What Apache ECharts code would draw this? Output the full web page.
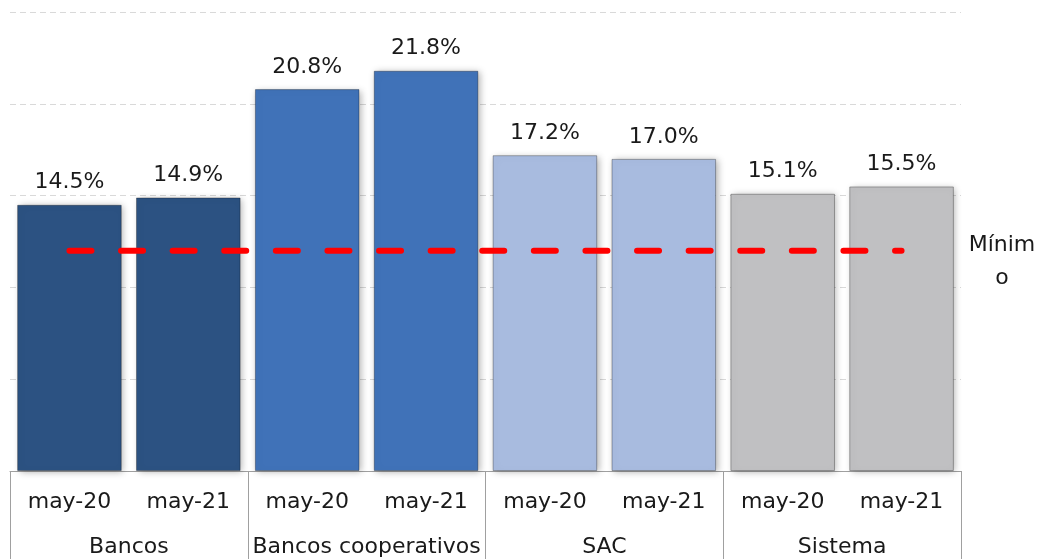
<!DOCTYPE html>
<html>
<head>
<meta charset="utf-8">
<script src="https://cdn.jsdelivr.net/npm/echarts@6/dist/echarts.min.js"></script>
<style>
  html, body { margin: 0; padding: 0; background: #fff; }
  #chart { width: 1041px; height: 559px; }
</style>
</head>
<body>
<div id="chart"></div>
<script>
// datos
const periodos = ['may-20', 'may-21', 'may-20', 'may-21', 'may-20', 'may-21', 'may-20', 'may-21'];
const grupos = ['Bancos', 'Bancos cooperativos', 'SAC', 'Sistema'];
const valores = [14.5, 14.9, 20.8, 21.8, 17.2, 17.0, 15.1, 15.5];
const minimo = [12, 12, 12, 12, 12, 12, 12, 12];
const colores = ['#2C5282', '#2C5282', '#4072B8', '#4072B8', '#A8BBDF', '#A8BBDF', '#C0C0C2', '#C0C0C2'];

const FONT = '"DejaVu Sans", sans-serif';

const chart = echarts.init(document.getElementById('chart'));

const option = {
  animation: false,
  grid: { left: 10, right: 80, top: 12, bottom: 88 },
  xAxis: [
    {
      type: 'category',
      data: periodos,
      axisLine: { lineStyle: { color: '#a0a0a0', width: 1 } },
      axisTick: { show: false },
      axisLabel: { interval: 0, margin: 20, fontSize: 22, color: '#1a1a1a', fontFamily: FONT }
    },
    {
      type: 'category',
      data: grupos,
      position: 'bottom',
      axisLine: { show: false },
      axisTick: { show: true, interval: 0, length: 90, lineStyle: { color: '#a0a0a0' } },
      axisLabel: { interval: 0, margin: 65, fontSize: 22, color: '#1a1a1a', fontFamily: FONT }
    }
  ],
  yAxis: {
    type: 'value',
    min: 0,
    max: 25,
    interval: 5,
    axisLine: { show: false },
    axisTick: { show: false },
    axisLabel: { show: false },
    splitLine: { lineStyle: { color: '#d9d9d9', type: [6, 4] } }
  },
  series: [
    {
      type: 'bar',
      xAxisIndex: 0,
      barCategoryGap: '12%',
      data: valores.map((v, i) => ({ value: v, itemStyle: { color: colores[i] } })),
      itemStyle: {
        borderColor: 'rgba(0,0,0,0.3)',
        borderWidth: 1,
        shadowColor: 'rgba(0,0,0,0.3)',
        shadowBlur: 7,
        shadowOffsetX: 2,
        shadowOffsetY: 1
      },
      label: {
        show: true,
        position: 'top',
        distance: 11,
        fontSize: 22,
        color: '#1a1a1a',
        fontFamily: FONT,
        formatter: p => p.value.toFixed(1) + '%'
      }
    },
    {
      type: 'line',
      xAxisIndex: 0,
      data: minimo,
      symbol: 'none',
      lineStyle: { color: '#FF0000', width: 6, type: [22, 29.6], cap: 'round' },
      z: 5
    }
  ],
  graphic: [
    {
      type: 'text',
      x: 1002,
      y: 229,
      style: {
        // la etiqueta se parte en dos líneas como en el original
        text: 'Mínim\no',
        lineHeight: 33,
        fontSize: 22,
        fill: '#1a1a1a',
        fontFamily: FONT,
        align: 'center',
        verticalAlign: 'top'
      }
    }
  ]
};

chart.setOption(option);
</script>
</body>
</html>
